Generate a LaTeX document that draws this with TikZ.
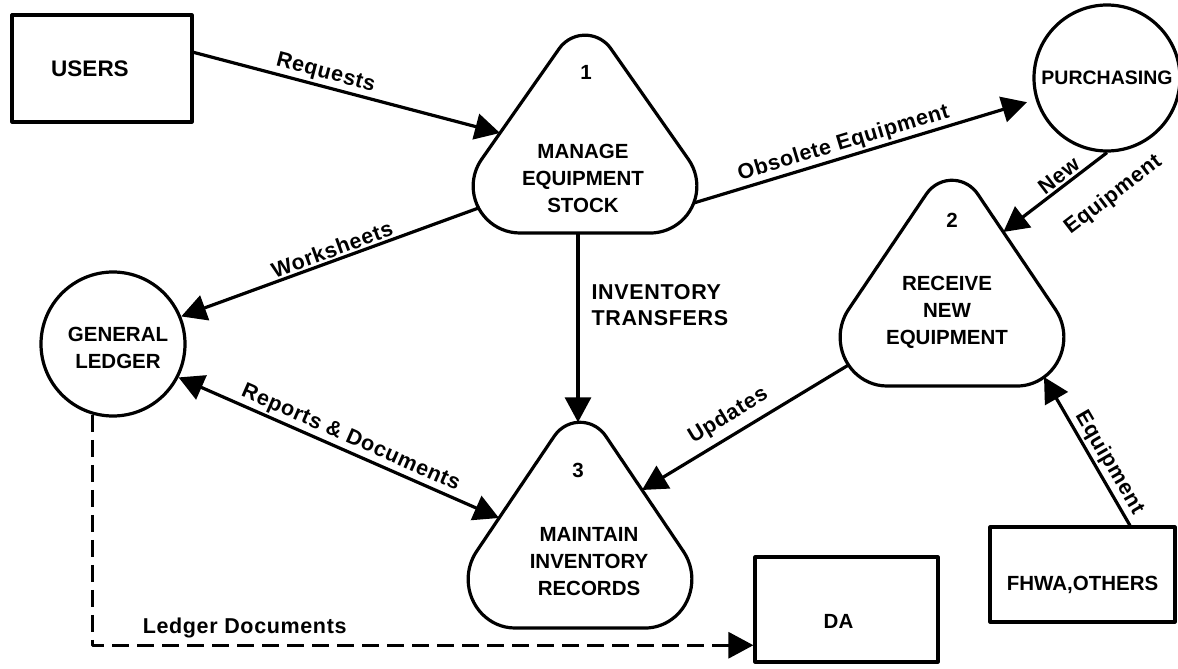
\documentclass[tikz,border=0pt]{standalone}
\usepackage{fontspec}
\setmainfont{Liberation Sans}
\newfontfamily\flowfont{Liberation Sans}[LetterSpace=3]
\usetikzlibrary{arrows.meta,calc}

% rounded-triangle outline of a process: #1 = x of centre, #2 = y of base, #3 = vertical scale
\newcommand\procoutline[3]{%
  \draw[ink, shift={(#1,#2)}, yscale=#3]
    (-65,0) arc[start angle=90, end angle=215, radius=46.85]
    -- (-25.8,-184.4) arc[start angle=215, end angle=325, radius=31.5]
    -- (103.4,-73.7) arc[start angle=-35, end angle=90, radius=46.85]
    -- cycle;
}

\tikzset{
  ink/.style={line width=3.2pt, line join=round},
  ebox/.style={ink, draw, rectangle, inner sep=0pt, font=\bfseries\fontsize{20.5}{27}\selectfont},
  store/.style={ink, draw, circle, inner sep=0pt, align=center, font=\bfseries\fontsize{20.5}{27}\selectfont},
  ptext/.style={inner sep=0pt, align=center, font=\bfseries\fontsize{20.5}{27}\selectfont},
  etext/.style={inner sep=0pt, font=\bfseries\fontsize{20.5}{27}\selectfont},
  tip/.tip={Triangle[length=25pt, width=26pt]},
  flow/.style={ink, -tip},
  flowboth/.style={ink, tip-tip},
  lbl/.style={inner sep=2pt, font=\flowfont\bfseries\fontsize{21.5}{26}\selectfont},
}

\begin{document}
\begin{tikzpicture}[x=1pt, y=-1pt]
\fill[white] (0,0) rectangle (1178,669);

% processes
\procoutline{585}{233}{1}
\procoutline{952}{386}{1.04}
\procoutline{580}{628}{1.04}

\node[ptext] (t1num) at (586,72) {1};
\node[ptext] (t1) at (583,178) {MANAGE\\EQUIPMENT\\STOCK};
\node[ptext] (t2num) at (952,220) {2};
\node[ptext] (t2) at (947,312) {RECEIVE\\NEW\\EQUIPMENT};
\node[ptext] (t3num) at (578,470) {3};
\node[ptext] (t3) at (589,562) {MAINTAIN\\INVENTORY\\RECORDS};

% points on the process outlines where flows meet them
\coordinate (t1-req) at (500,133);
\coordinate (t1-ws)  at (478.6,208);
\coordinate (t1-obs) at (693.7,203);
\coordinate (t1-inv) at (578,233);
\coordinate (t2-new) at (1003.3,232);
\coordinate (t2-upd) at (848.5,365);
\coordinate (t2-eq)  at (1044,377);
\coordinate (t3-inv) at (578,422.3);
\coordinate (t3-rep) at (499,518);
\coordinate (t3-upd) at (642,490);

% external entities and stores
\node[ebox, minimum width=180pt, minimum height=107pt,
      label={[etext, font=\bfseries\fontsize{22.5}{27}\selectfont, xshift=-12pt]center:USERS}] (users) at (102,68.5) {};
\node[ebox, minimum width=183pt, minimum height=105pt,
      label={[etext, xshift=-8pt, yshift=-12pt]center:DA}] (da) at (846.5,609.5) {};
\node[ebox, minimum width=185pt, minimum height=95pt,
      label={[etext, yshift=-10pt]center:FHWA,OTHERS}] (fhwa) at (1082.5,574.5) {};
\node[store, minimum size=146pt, font=\bfseries\fontsize{19.5}{26}\selectfont] (purch) at (1107,78) {PURCHASING};
\node[store, minimum size=144pt,
      label={[etext, align=center, xshift=5pt, yshift=-4pt]center:GENERAL\\LEDGER}] (gl) at (113,344) {};

% data flows
\draw[flow] (users.10) -- node[lbl, sloped, above, pos=0.42] {Requests} (t1-req);
\draw[flow, shorten >=9pt] (t1-obs) -- node[lbl, sloped, above, pos=0.45] {Obsolete Equipment} (purch);
\draw[flow] (purch.south) --
  node[lbl, sloped, above, pos=0.4] {New}
  node[lbl, sloped, below=24pt, pos=0.16] {Equipment} (t2-new);
\draw[flow] (t1-ws) -- node[lbl, sloped, above, pos=0.48] {Worksheets} (gl.22);
\draw[flow] (t1-inv) -- node[lbl, right=10pt, pos=0.38, align=left] {INVENTORY\\TRANSFERS} (t3-inv);
\draw[flowboth] (gl.-27) -- node[lbl, sloped, above, pos=0.52] {Reports \& Documents} (t3-rep);
\draw[flow] (t2-upd) -- node[lbl, sloped, above=5pt, pos=0.535] {Updates} (t3-upd);
\draw[flow] (fhwa.46) -- node[lbl, sloped, above, pos=0.375] {Equipment} (t2-eq);
\draw[flow, dash pattern=on 17pt off 8pt] (gl.-106) |-
  node[lbl, above=4pt, pos=0.615] {Ledger Documents} (da.201);

\pgfresetboundingbox
\path[use as bounding box] (0,0) rectangle (1178,669);
\end{tikzpicture}
\end{document}
